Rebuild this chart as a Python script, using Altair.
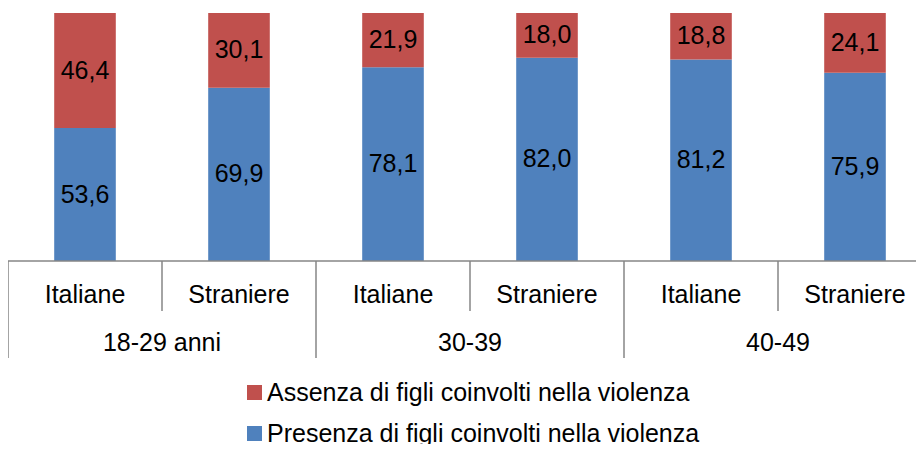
import altair as alt
import pandas as pd

groups = ["18-29 anni", "18-29 anni", "30-39", "30-39", "40-49", "40-49"]
subs = ["Italiane", "Straniere", "Italiane", "Straniere", "Italiane", "Straniere"]
presenza = [53.6, 69.9, 78.1, 82.0, 81.2, 75.9]
assenza = [46.4, 30.1, 21.9, 18.0, 18.8, 24.1]
series = ["Assenza di figli coinvolti nella violenza", "Presenza di figli coinvolti nella violenza"]
colors = ["#C0504D", "#4F81BD"]

keys = [f"{g} | {s}" for g, s in zip(groups, subs)]

rows = []
for k, g, s, p, a in zip(keys, groups, subs, presenza, assenza):
    rows.append({"key": k, "group": g, "sub": s, "serie": series[1], "ord": 0, "v": p})
    rows.append({"key": k, "group": g, "sub": s, "serie": series[0], "ord": 1, "v": a})
df = pd.DataFrame(rows)
cats = pd.DataFrame({"key": keys, "group": groups, "sub": subs})

FONT = "Liberation Sans"
AXIS_COLOR = "#868686"

xscale = alt.Scale(domain=keys, range=[0, 924], paddingInner=0, paddingOuter=0)
yscale = alt.Scale(domain=[0, 100], range=[253, 5], nice=False)

stacked = alt.Chart(df).transform_stack(
    stack="v", groupby=["key"], as_=["y0", "y1"], sort=[alt.SortField("ord")]
).transform_calculate(
    mid="(datum.y0 + datum.y1) / 2",
    lab="replace(format(datum.v, '.1f'), '.', ',')",
)

bars = stacked.mark_bar(width={"band": 0.4}).encode(
    x=alt.X("key:N", scale=xscale, axis=None),
    y=alt.Y("y0:Q", scale=yscale, axis=None),
    y2="y1:Q",
    color=alt.Color(
        "serie:N",
        scale=alt.Scale(domain=series, range=colors),
        legend=alt.Legend(
            title=None,
            orient="none",
            legendX=234,
            legendY=372,
            direction="vertical",
            symbolType="square",
            symbolSize=225,
            symbolStrokeWidth=0,
            symbolOpacity=1,
            labelFont=FONT,
            labelFontSize=25,
            labelColor="#000000",
            labelOffset=0,
            rowPadding=15,
            padding=0,
            labelLimit=800,
        ),
    ),
)

bar_text = stacked.mark_text(font=FONT, fontSize=25, color="#000000", baseline="middle").encode(
    x=alt.X("key:N", scale=xscale, axis=None),
    y=alt.Y("mid:Q", scale=yscale, axis=None),
    text="lab:N",
)

base_line = alt.Chart(pd.DataFrame({"a": [0]})).mark_rule(
    color=AXIS_COLOR, strokeWidth=1.5
).encode(x=alt.value(0), x2=alt.value(924), y=alt.value(253))

long_rules = alt.Chart(cats).transform_filter(alt.datum.sub == "Italiane").mark_rule(
    color=AXIS_COLOR, strokeWidth=1.5
).encode(
    x=alt.X("key:N", scale=xscale, axis=None, bandPosition=0),
    y=alt.value(253),
    y2=alt.value(350),
)

short_rules = alt.Chart(cats).transform_filter(alt.datum.sub == "Straniere").mark_rule(
    color=AXIS_COLOR, strokeWidth=1.5
).encode(
    x=alt.X("key:N", scale=xscale, axis=None, bandPosition=0),
    y=alt.value(253),
    y2=alt.value(303),
)

sub_labels = alt.Chart(cats).mark_text(font=FONT, fontSize=25, color="#000000", baseline="middle").encode(
    x=alt.X("key:N", scale=xscale, axis=None),
    y=alt.value(287),
    text="sub:N",
)

group_labels = alt.Chart(cats).transform_filter(alt.datum.sub == "Straniere").mark_text(
    font=FONT, fontSize=25, color="#000000", baseline="middle"
).encode(
    x=alt.X("key:N", scale=xscale, axis=None, bandPosition=0),
    y=alt.value(335),
    text="group:N",
)

chart = alt.layer(
    bars, bar_text, base_line, long_rules, short_rules, sub_labels, group_labels
).properties(
    width=908,
    height=436,
    padding=0,
    autosize=alt.AutoSizeParams(type="none"),
    background="#ffffff",
).configure_view(strokeWidth=0)

chart.save("out.html", embed_options={"renderer": "svg", "actions": False})
